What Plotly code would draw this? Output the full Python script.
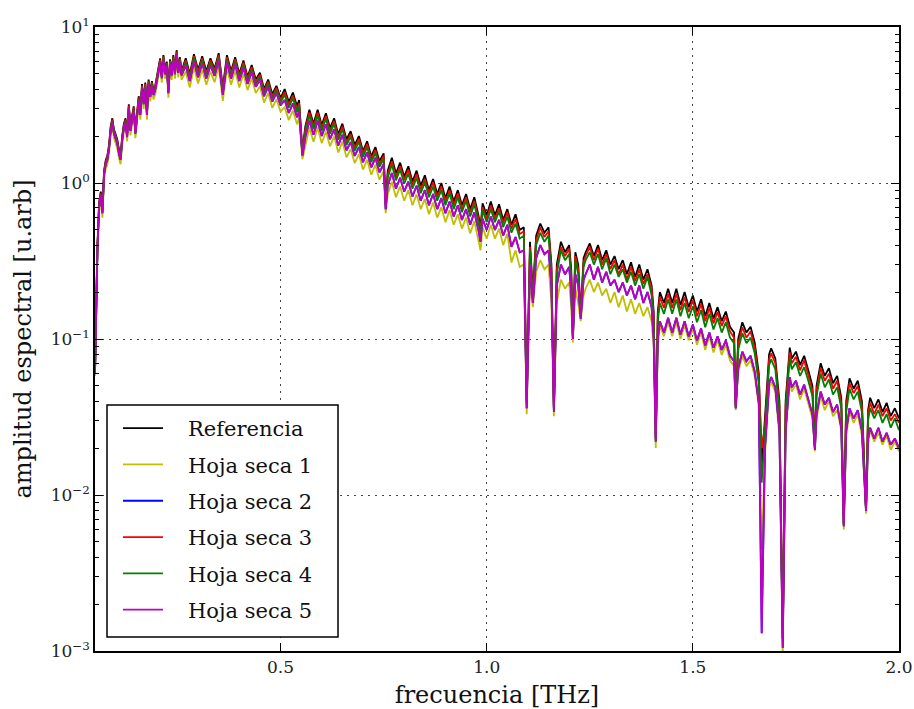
import plotly.graph_objects as go

# ---------------- data ----------------
freq = [
    # 0.05 - 0.26 THz (rise)
    0.050, 0.053, 0.056, 0.060, 0.064, 0.068, 0.072, 0.076, 0.080, 0.084, 0.088, 0.092, 0.096, 0.100,
    0.104, 0.108, 0.112, 0.116, 0.120, 0.124, 0.128, 0.132, 0.136, 0.140, 0.144, 0.148, 0.152, 0.156,
    0.160, 0.164, 0.168, 0.172, 0.176, 0.180, 0.184, 0.188, 0.192, 0.196, 0.200, 0.204, 0.208, 0.212,
    0.216, 0.220, 0.224, 0.228, 0.232, 0.236, 0.240, 0.244, 0.248, 0.252, 0.256, 0.260,
    # 0.27 - 0.50
    0.27, 0.28, 0.29, 0.30, 0.31, 0.32, 0.33, 0.34, 0.35, 0.36, 0.37, 0.38, 0.39, 0.40, 0.41, 0.42,
    0.43, 0.44, 0.45, 0.46, 0.47, 0.48, 0.49, 0.50,
    # 0.51 - 0.75
    0.51, 0.52, 0.53, 0.54, 0.545, 0.553, 0.56, 0.57, 0.58, 0.59, 0.60, 0.61, 0.62, 0.63, 0.64, 0.65,
    0.66, 0.67, 0.68, 0.69, 0.70, 0.71, 0.72, 0.73, 0.74, 0.75,
    # 0.755 - 1.05
    0.755, 0.76, 0.77, 0.78, 0.79, 0.80, 0.81, 0.82, 0.83, 0.84, 0.85, 0.86, 0.87, 0.88, 0.89, 0.90,
    0.91, 0.92, 0.93, 0.94, 0.95, 0.96, 0.97, 0.98, 0.985, 0.99, 1.00, 1.01, 1.02, 1.03, 1.04, 1.05,
    # 1.06 - 1.40
    1.06, 1.07, 1.08, 1.09, 1.097, 1.105, 1.112, 1.12, 1.13, 1.14, 1.15, 1.157, 1.163, 1.17, 1.18, 1.19,
    1.20, 1.205, 1.209, 1.215, 1.222, 1.228, 1.235, 1.24, 1.25, 1.26, 1.27, 1.28, 1.29, 1.30, 1.31, 1.32,
    1.33, 1.34, 1.35, 1.36, 1.37, 1.38, 1.39, 1.40,
    # 1.405 - 2.00
    1.405, 1.41, 1.415, 1.42, 1.43, 1.44, 1.45, 1.46, 1.47, 1.48, 1.49, 1.50, 1.51, 1.52, 1.53, 1.54,
    1.55, 1.56, 1.57, 1.58, 1.59, 1.60, 1.604, 1.61, 1.62, 1.63, 1.64, 1.65, 1.66, 1.667, 1.675, 1.685,
    1.69, 1.70, 1.71, 1.718, 1.725, 1.735, 1.74, 1.75, 1.76, 1.77, 1.78, 1.79, 1.796, 1.80, 1.81, 1.82,
    1.83, 1.84, 1.85, 1.86, 1.866, 1.872, 1.88, 1.89, 1.90, 1.91, 1.92, 1.925, 1.93, 1.94, 1.95, 1.96,
    1.97, 1.98, 1.99, 2.00,
]

referencia = [
    0.062, 0.20, 0.40, 0.75, 0.88, 0.68, 1.20, 1.40, 1.50, 1.75, 2.30, 2.60, 2.20, 2.05, 1.90, 1.65, 1.50,
    2.00, 2.40, 2.60, 2.10, 3.20, 2.30, 2.70, 3.10, 2.20, 3.00, 3.60, 2.90, 4.30, 3.40, 4.40, 2.90, 4.60,
    3.80, 4.50, 3.90, 4.20, 4.80, 5.50, 6.30, 5.00, 6.60, 5.30, 6.00, 4.00, 6.20, 5.20, 6.60, 5.30, 7.10,
    5.40, 6.40, 5.20,
    6.30, 5.00, 6.70, 5.30, 6.50, 5.20, 6.30, 5.40, 6.80, 4.10, 6.60, 5.20, 6.40, 5.00, 6.10, 4.80, 5.70,
    4.60, 5.10, 4.00, 4.60, 3.70, 4.20, 3.50,
    4.00, 3.30, 3.80, 3.10, 3.40, 1.60, 2.30, 2.95, 2.40, 2.95, 2.35, 2.80, 2.25, 2.60, 2.05, 2.40, 1.90,
    2.15, 1.75, 2.00, 1.60, 1.85, 1.48, 1.70, 1.38, 1.55,
    0.75, 1.20, 1.45, 1.15, 1.35, 1.10, 1.28, 1.02, 1.20, 0.96, 1.12, 0.90, 1.06, 0.85, 1.00, 0.80, 0.95,
    0.76, 0.90, 0.72, 0.85, 0.68, 0.81, 0.62, 0.52, 0.74, 0.62, 0.76, 0.62, 0.73, 0.58, 0.68,
    0.54, 0.63, 0.50, 0.52, 0.040, 0.42, 0.20, 0.46, 0.55, 0.48, 0.52, 0.30, 0.036, 0.30, 0.42, 0.36, 0.40,
    0.28, 0.105, 0.36, 0.30, 0.145, 0.33, 0.36, 0.41, 0.34, 0.40, 0.32, 0.37, 0.30, 0.34, 0.28, 0.32, 0.26,
    0.31, 0.25, 0.30, 0.24, 0.28, 0.22,
    0.15, 0.023, 0.15, 0.20, 0.17, 0.21, 0.17, 0.21, 0.165, 0.20, 0.16, 0.19, 0.15, 0.18, 0.14, 0.17, 0.135,
    0.16, 0.13, 0.15, 0.12, 0.11, 0.037, 0.10, 0.128, 0.11, 0.12, 0.095, 0.06, 0.015, 0.03, 0.08, 0.087,
    0.075, 0.04, 0.0012, 0.04, 0.088, 0.075, 0.083, 0.068, 0.078, 0.063, 0.05, 0.02, 0.05, 0.07, 0.058,
    0.065, 0.052, 0.058, 0.042, 0.0065, 0.04, 0.056, 0.048, 0.054, 0.04, 0.008, 0.035, 0.042, 0.036, 0.041,
    0.034, 0.039, 0.032, 0.036, 0.031,
]

hoja_seca_1 = [
    0.058, 0.22, 0.36, 0.66, 0.77, 0.60, 1.06, 1.23, 1.32, 1.54, 2.02, 2.29, 1.94, 1.80, 1.67, 1.45, 1.32,
    1.76, 2.11, 2.29, 1.85, 2.82, 2.02, 2.38, 2.73, 1.94, 2.64, 3.17, 2.55, 3.78, 2.99, 3.87, 2.55, 4.05,
    3.34, 3.96, 3.43, 3.70, 4.22, 4.84, 5.54, 4.40, 5.81, 4.66, 5.28, 3.52, 5.46, 4.58, 5.81, 4.66, 6.25,
    4.75, 5.63, 4.58,
    5.17, 4.10, 5.49, 4.35, 5.33, 4.26, 5.17, 4.43, 5.58, 3.36, 5.41, 4.26, 5.25, 4.10, 5.00, 3.94, 4.67,
    3.77, 4.18, 3.28, 3.77, 3.03, 3.44, 2.87,
    3.06, 2.53, 2.91, 2.38, 2.60, 1.42, 1.76, 2.26, 1.84, 2.26, 1.80, 2.14, 1.72, 1.99, 1.57, 1.84, 1.46,
    1.65, 1.34, 1.53, 1.22, 1.41, 1.13, 1.31, 1.05, 1.19,
    0.64, 0.845, 1.02, 0.81, 0.95, 0.77, 0.90, 0.72, 0.845, 0.68, 0.79, 0.63, 0.75, 0.60, 0.70, 0.56, 0.67,
    0.54, 0.63, 0.51, 0.60, 0.475, 0.57, 0.44, 0.37, 0.52, 0.44, 0.54, 0.44, 0.51, 0.40, 0.475,
    0.31, 0.37, 0.29, 0.30, 0.033, 0.24, 0.16, 0.27, 0.32, 0.28, 0.30, 0.17, 0.032, 0.17, 0.24, 0.21, 0.23,
    0.16, 0.095, 0.21, 0.17, 0.13, 0.19, 0.21, 0.24, 0.20, 0.23, 0.19, 0.21, 0.17, 0.20, 0.16, 0.19, 0.15,
    0.18, 0.145, 0.17, 0.14, 0.16, 0.13,
    0.09, 0.020, 0.09, 0.122, 0.104, 0.128, 0.104, 0.128, 0.10, 0.122, 0.098, 0.116, 0.092, 0.11, 0.085,
    0.104, 0.082, 0.098, 0.079, 0.092, 0.073, 0.067, 0.035, 0.061, 0.078, 0.067, 0.073, 0.058, 0.037,
    0.0045, 0.018, 0.049, 0.053, 0.046, 0.024, 0.00095, 0.024, 0.054, 0.046, 0.051, 0.041, 0.048, 0.038,
    0.031, 0.019, 0.031, 0.043, 0.035, 0.04, 0.032, 0.035, 0.026, 0.006, 0.024, 0.034, 0.029, 0.033, 0.024,
    0.0076, 0.021, 0.026, 0.022, 0.025, 0.021, 0.024, 0.0195, 0.022, 0.019,
]

hoja_seca_3 = [
    0.062, 0.20, 0.40, 0.74, 0.86, 0.67, 1.18, 1.37, 1.47, 1.72, 2.25, 2.55, 2.16, 2.01, 1.86, 1.62, 1.47,
    1.96, 2.35, 2.55, 2.06, 3.14, 2.25, 2.65, 3.04, 2.16, 2.94, 3.53, 2.84, 4.21, 3.33, 4.31, 2.84, 4.51,
    3.72, 4.41, 3.82, 4.12, 4.70, 5.39, 6.17, 4.90, 6.47, 5.19, 5.88, 3.92, 6.08, 5.10, 6.47, 5.19, 6.96,
    5.29, 6.27, 5.10,
    6.11, 4.85, 6.50, 5.14, 6.31, 5.04, 6.11, 5.24, 6.60, 3.98, 6.40, 5.04, 6.21, 4.85, 5.92, 4.66, 5.53,
    4.46, 4.95, 3.88, 4.46, 3.59, 4.07, 3.40,
    3.84, 3.17, 3.65, 2.98, 3.26, 1.57, 2.21, 2.83, 2.30, 2.83, 2.26, 2.69, 2.16, 2.50, 1.97, 2.30, 1.82,
    2.06, 1.68, 1.92, 1.54, 1.78, 1.42, 1.63, 1.32, 1.49,
    0.73, 1.14, 1.38, 1.09, 1.28, 1.05, 1.22, 0.97, 1.14, 0.91, 1.06, 0.86, 1.01, 0.81, 0.95, 0.76, 0.90,
    0.72, 0.86, 0.68, 0.81, 0.65, 0.77, 0.59, 0.49, 0.70, 0.59, 0.72, 0.59, 0.69, 0.55, 0.65,
    0.51, 0.59, 0.47, 0.49, 0.040, 0.39, 0.19, 0.43, 0.52, 0.45, 0.49, 0.28, 0.036, 0.28, 0.39, 0.34, 0.38,
    0.26, 0.105, 0.34, 0.28, 0.14, 0.31, 0.34, 0.39, 0.32, 0.38, 0.30, 0.35, 0.28, 0.32, 0.26, 0.30, 0.24,
    0.29, 0.235, 0.28, 0.225, 0.26, 0.21,
    0.14, 0.023, 0.14, 0.186, 0.158, 0.195, 0.158, 0.195, 0.153, 0.186, 0.149, 0.177, 0.14, 0.167, 0.13,
    0.158, 0.126, 0.149, 0.121, 0.14, 0.112, 0.102, 0.037, 0.093, 0.119, 0.102, 0.112, 0.088, 0.056, 0.02,
    0.028, 0.074, 0.081, 0.07, 0.037, 0.0012, 0.037, 0.082, 0.07, 0.077, 0.063, 0.073, 0.059, 0.047, 0.02,
    0.047, 0.065, 0.054, 0.06, 0.048, 0.054, 0.039, 0.0065, 0.037, 0.052, 0.045, 0.05, 0.037, 0.008, 0.033,
    0.039, 0.033, 0.038, 0.032, 0.036, 0.03, 0.033, 0.029,
]

hoja_seca_4 = [
    0.061, 0.19, 0.39, 0.72, 0.84, 0.65, 1.15, 1.34, 1.44, 1.68, 2.21, 2.50, 2.11, 1.97, 1.82, 1.58, 1.44,
    1.92, 2.30, 2.50, 2.02, 3.07, 2.21, 2.59, 2.98, 2.11, 2.88, 3.46, 2.78, 4.13, 3.26, 4.22, 2.78, 4.42,
    3.65, 4.32, 3.74, 4.03, 4.61, 5.28, 6.05, 4.80, 6.34, 5.09, 5.76, 3.84, 5.95, 4.99, 6.34, 5.09, 6.82,
    5.18, 6.14, 4.99,
    5.92, 4.70, 6.30, 4.98, 6.11, 4.89, 5.92, 5.08, 6.39, 3.85, 6.20, 4.89, 6.02, 4.70, 5.73, 4.51, 5.36,
    4.32, 4.79, 3.76, 4.32, 3.48, 3.95, 3.29,
    3.68, 3.04, 3.50, 2.85, 3.13, 1.55, 2.12, 2.71, 2.21, 2.71, 2.16, 2.58, 2.07, 2.39, 1.89, 2.21, 1.75,
    1.98, 1.61, 1.84, 1.47, 1.70, 1.36, 1.56, 1.27, 1.43,
    0.72, 1.08, 1.31, 1.04, 1.22, 0.99, 1.15, 0.92, 1.08, 0.86, 1.01, 0.81, 0.95, 0.77, 0.90, 0.72, 0.86,
    0.68, 0.81, 0.65, 0.77, 0.61, 0.73, 0.56, 0.47, 0.67, 0.56, 0.68, 0.56, 0.66, 0.52, 0.61,
    0.48, 0.55, 0.44, 0.46, 0.038, 0.37, 0.18, 0.40, 0.48, 0.42, 0.46, 0.26, 0.035, 0.26, 0.37, 0.32, 0.35,
    0.25, 0.10, 0.32, 0.26, 0.14, 0.29, 0.32, 0.36, 0.30, 0.35, 0.28, 0.33, 0.26, 0.30, 0.25, 0.28, 0.23,
    0.27, 0.22, 0.26, 0.21, 0.25, 0.19,
    0.13, 0.022, 0.13, 0.17, 0.145, 0.179, 0.145, 0.179, 0.14, 0.17, 0.136, 0.162, 0.128, 0.153, 0.119,
    0.145, 0.115, 0.136, 0.11, 0.128, 0.102, 0.094, 0.036, 0.085, 0.109, 0.094, 0.102, 0.081, 0.051, 0.012,
    0.026, 0.068, 0.074, 0.064, 0.034, 0.0012, 0.034, 0.075, 0.064, 0.071, 0.058, 0.066, 0.054, 0.043, 0.02,
    0.043, 0.06, 0.049, 0.055, 0.044, 0.049, 0.036, 0.0065, 0.034, 0.048, 0.041, 0.046, 0.034, 0.008, 0.03,
    0.036, 0.031, 0.035, 0.029, 0.033, 0.027, 0.031, 0.026,
]

hoja_seca_5 = [
    0.060, 0.19, 0.38, 0.70, 0.83, 0.64, 1.13, 1.32, 1.41, 1.65, 2.16, 2.44, 2.07, 1.93, 1.79, 1.55, 1.41,
    1.88, 2.26, 2.44, 1.97, 3.01, 2.16, 2.54, 2.91, 2.07, 2.82, 3.38, 2.73, 4.04, 3.20, 4.14, 2.73, 4.32,
    3.57, 4.23, 3.67, 3.95, 4.51, 5.17, 5.92, 4.70, 6.20, 4.98, 5.64, 3.76, 5.83, 4.89, 6.20, 4.98, 6.67,
    5.08, 6.02, 4.89,
    5.67, 4.50, 6.03, 4.77, 5.85, 4.68, 5.67, 4.86, 6.12, 3.69, 5.94, 4.68, 5.76, 4.50, 5.49, 4.32, 5.13,
    4.14, 4.59, 3.60, 4.14, 3.33, 3.78, 3.15,
    3.40, 2.81, 3.23, 2.64, 2.89, 1.50, 1.96, 2.51, 2.04, 2.51, 2.00, 2.38, 1.91, 2.21, 1.74, 2.04, 1.62,
    1.83, 1.49, 1.70, 1.36, 1.57, 1.26, 1.45, 1.17, 1.32,
    0.68, 0.96, 1.16, 0.92, 1.08, 0.88, 1.02, 0.82, 0.96, 0.77, 0.90, 0.72, 0.85, 0.68, 0.80, 0.64, 0.76,
    0.61, 0.72, 0.58, 0.68, 0.54, 0.65, 0.50, 0.42, 0.59, 0.50, 0.61, 0.50, 0.58, 0.46, 0.54,
    0.39, 0.45, 0.36, 0.37, 0.036, 0.30, 0.17, 0.33, 0.40, 0.35, 0.37, 0.22, 0.034, 0.22, 0.30, 0.26, 0.29,
    0.20, 0.10, 0.26, 0.22, 0.135, 0.24, 0.26, 0.30, 0.24, 0.29, 0.23, 0.27, 0.22, 0.24, 0.20, 0.23, 0.19,
    0.22, 0.18, 0.22, 0.17, 0.20, 0.16,
    0.10, 0.022, 0.10, 0.13, 0.11, 0.137, 0.11, 0.137, 0.107, 0.13, 0.104, 0.124, 0.098, 0.117, 0.091,
    0.11, 0.088, 0.104, 0.085, 0.098, 0.078, 0.072, 0.036, 0.065, 0.083, 0.072, 0.078, 0.062, 0.039,
    0.0013, 0.02, 0.052, 0.057, 0.049, 0.026, 0.00105, 0.026, 0.057, 0.049, 0.054, 0.044, 0.051, 0.041,
    0.033, 0.0195, 0.033, 0.046, 0.038, 0.042, 0.034, 0.038, 0.027, 0.0063, 0.026, 0.036, 0.031, 0.035,
    0.026, 0.0079, 0.023, 0.027, 0.023, 0.027, 0.022, 0.025, 0.021, 0.023, 0.02,
]

# Hoja seca 2 (blue) is not visible anywhere in the picture: it lies under Hoja seca 5.
hoja_seca_2 = list(hoja_seca_5)

series_names = ["Referencia", "Hoja seca 1", "Hoja seca 2", "Hoja seca 3", "Hoja seca 4", "Hoja seca 5"]
series_values = [referencia, hoja_seca_1, hoja_seca_2, hoja_seca_3, hoja_seca_4, hoja_seca_5]
series_colors = ["#000000", "#bfbf00", "#0000ff", "#ff0000", "#008000", "#bf00bf"]

x_tick_vals = [0.5, 1.0, 1.5, 2.0]
x_tick_text = ["0.5", "1.0", "1.5", "2.0"]
y_tick_vals = [1e-3, 1e-2, 1e-1, 1e0, 1e1]
y_tick_text = ["10<sup>\u22123</sup>", "10<sup>\u22122</sup>", "10<sup>\u22121</sup>",
               "10<sup>0</sup>", "10<sup>1</sup>"]

for name, vals in zip(series_names, series_values):
    if len(vals) != len(freq):
        raise SystemExit(f"{name}: {len(vals)} values vs {len(freq)} freqs")

SERIF = "DejaVu Serif, Liberation Serif, serif"
PAD = "\u00a0\u00a0\u00a0"  # gap between legend line sample and its label

fig = go.Figure()
for i, (name, vals, col) in enumerate(zip(series_names, series_values, series_colors)):
    fig.add_trace(go.Scatter(
        x=freq, y=vals, mode="lines", name=PAD + name,
        line=dict(color=col, width=1.8),
        legendgroup=f"g{i}",
    ))

axis_common = dict(
    showline=True, linecolor="black", linewidth=1.5, mirror="allticks",
    ticks="inside", tickcolor="black", ticklen=8, tickwidth=1,
    showgrid=True, gridcolor="#444444", gridwidth=1, griddash="2px,5px",
    zeroline=False, automargin=False,
    tickfont=dict(family=SERIF, size=17, color="#222222"),
)

fig.update_xaxes(
    range=[0.05, 2.0], tickvals=x_tick_vals, ticktext=x_tick_text,
    title=dict(text="frecuencia [THz]", font=dict(family=SERIF, size=24, color="#111111"), standoff=10),
    **axis_common,
)
fig.update_yaxes(
    type="log", range=[-3, 1], tickvals=y_tick_vals, ticktext=y_tick_text,
    title=dict(text="amplitud espectral [u.arb]", font=dict(family=SERIF, size=24, color="#111111"), standoff=12),
    minor=dict(ticks="inside", ticklen=4, tickcolor="black", dtick="D1", showgrid=False),
    **axis_common,
)

# legend frame (matplotlib style box)
fig.add_shape(
    type="rect", xref="paper", yref="paper",
    x0=(107 - 95) / 804, x1=(338 - 95) / 804,
    y0=(651 - 637) / 624, y1=(651 - 405) / 624,
    line=dict(color="black", width=1.5), fillcolor="white", layer="above",
)

fig.update_layout(
    width=914, height=709,
    margin=dict(l=95, r=15, t=27, b=58),
    paper_bgcolor="white", plot_bgcolor="white",
    showlegend=True,
    legend=dict(
        x=(118 - 95) / 804, y=(651 - 408) / 624, xanchor="left", yanchor="top",
        bgcolor="rgba(0,0,0,0)", borderwidth=0,
        font=dict(family=SERIF, size=21, color="#111111"),
        tracegroupgap=6, itemwidth=40, traceorder="grouped",
    ),
)

fig.write_html("out.html")
